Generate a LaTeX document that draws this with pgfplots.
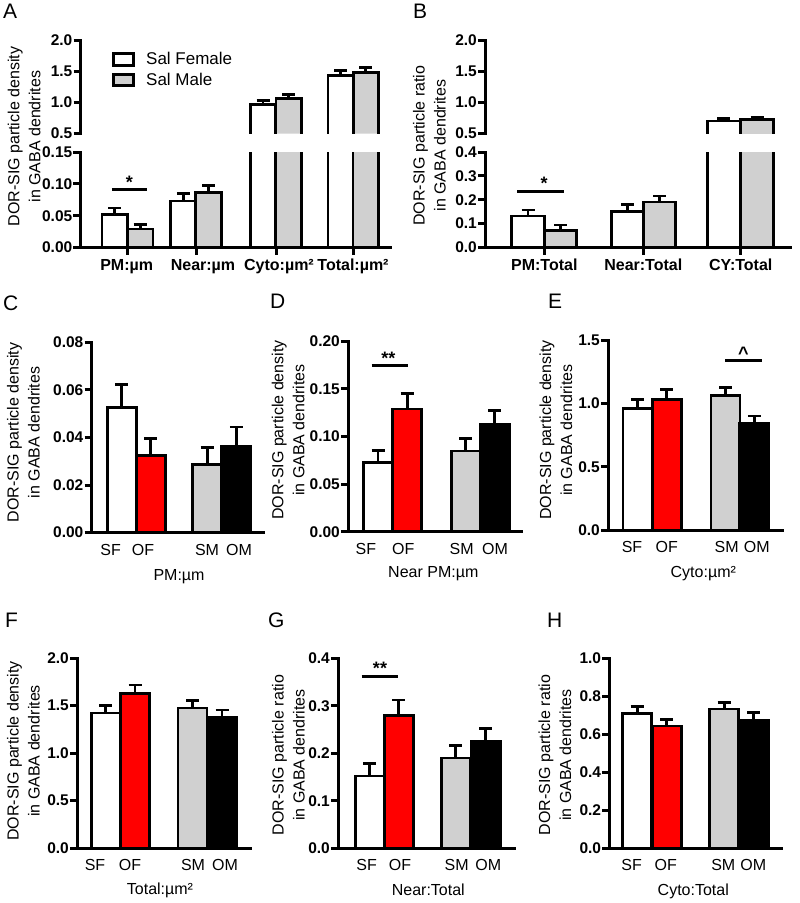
\documentclass[border=0pt]{standalone}
\usepackage{fontspec}
\setmainfont{Liberation Sans}
\usepackage{pgfplots}
\pgfplotsset{compat=1.18}

\definecolor{barred}{RGB}{255,0,0}
\definecolor{bargray}{RGB}{208,208,208}
\newcommand{\fs}[1]{\fontsize{#1}{#1}\selectfont}

% 1pt in the picture = 1px of the reference
\pgfplotsset{
  panel/.style={
    scale only axis, enlargelimits=false, clip mode=individual,
    axis x line=bottom, axis y line=left,
    axis line style={-, line width=3pt, line cap=rect},
    tick align=outside, major tick length=7pt,
    ytick style={line width=3pt, black},
    xtick style={draw=none},
    ymin=0, scaled y ticks=false,
    /pgf/number format/assume math mode=true,
    yticklabel style={font=\fs{15.5}\bfseries, inner sep=1pt},
    xticklabel style={font=\fs{16}, anchor=base, yshift=-15.5pt},
    ylabel style={font=\fontsize{16}{21}\selectfont, align=center, anchor=center},
    xlabel style={font=\fs{16}, anchor=base, at={(axis description cs:0,0)}},
  },
  br/.style={ybar, bar shift=0pt, bar width=29, fill=#1, draw=black, line width=2.7pt,
    legend image code/.code={\draw[line width=3pt, draw=black, fill=#1] (0pt,-5.75pt) rectangle (20.5pt,5.75pt);},
    error bars/y dir=plus, error bars/y explicit,
    error bars/error bar style={line width=2.7pt, draw=black, solid},
    error bars/error mark options={rotate=90, line width=2.7pt, mark size=6.5pt, draw=black}},
  % open-bottom outline of a bar in the upper part of a broken axis
  edge/.style={line width=2.7pt, black, mark=none, line join=miter, forget plot},
}
\tikzset{
  sig/.style={line width=3pt},
  star/.style={font=\fs{18}\bfseries, anchor=base, inner sep=0pt},
}

\begin{document}
\begin{tikzpicture}
\useasboundingbox (0pt,0pt) rectangle (800pt,-903pt);

% panel letters
\foreach \t/\x/\y in {A/3/18, B/413/18, C/3/310, D/270/308, E/548/308, F/5/627, G/268/627, H/547/627}
  \node[anchor=base west, inner sep=0pt, font=\fs{21}] at (\x pt,-\y pt) {\t};

% ---------------- A (broken axis) ----------------
\begin{axis}[panel, at={(80.5pt,-247.5pt)}, anchor=south west,
  width=309.5pt, height=95.5pt, xmin=80.5, xmax=390, ymax=0.15,
  ytick={0,0.05,0.10,0.15}, yticklabels={0.00,0.05,0.10,0.15},
  xtick={126.7,203,279,353},
  xticklabels={PM:µm, Near:µm, Cyto:µm², Total:µm²},
  xticklabel style={font=\fs{16}\bfseries},
  extra x ticks={127.7,196,276,353}, extra x tick labels={},
  extra x tick style={xtick style={draw=black, line width=3pt}},
  ylabel={DOR-SIG particle density\\in GABA dendrites},
  ylabel style={at={(axis description cs:-0.1819,1.160)}}]
\addplot[br=white, bar width=25.5] coordinates {(114.7,0.052) +- (0,0.010) (183.3,0.073) +- (0,0.012) (263,0.96) +- (0,0.07) (340.8,1.43) +- (0,0.08)};
\addplot[br=bargray, bar width=25.5] coordinates {(140.2,0.029) +- (0,0.007) (208.5,0.086) +- (0,0.011) (288.8,1.06) +- (0,0.065) (365.8,1.48) +- (0,0.08)};
\draw[sig] (axis cs:112,0.091) -- (axis cs:147,0.091);
\node[star] at (axis cs:129.5,0.093) {*};
\end{axis}
\begin{axis}[panel, at={(80.5pt,-133.5pt)}, anchor=south west,
  width=309.5pt, height=93.5pt, xmin=80.5, xmax=390, ymin=0.5, ymax=2.0,
  axis x line=none,
  ytick={0.5,1,1.5,2}, yticklabels={0.5,1.0,1.5,2.0}, xtick=\empty,
  legend style={draw=none, fill=none, at={(axis description cs:0,1)}, anchor=north west,
    xshift=31pt, yshift=-11.8pt, font=\fs{17}, row sep=6pt, inner sep=0pt,
    nodes={inner sep=0pt}, column sep=11pt},
  legend cell align=left]
\addplot[br=white, draw=none, bar width=25.5] coordinates {(263,0.96) +- (0,0.07) (340.8,1.43) +- (0,0.08)};
\addplot[br=bargray, draw=none, bar width=25.5] coordinates {(288.8,1.06) +- (0,0.065) (365.8,1.48) +- (0,0.08)};
\addplot[edge] coordinates {(250.25,0) (250.25,0.96) (275.75,0.96) (275.75,0)};
\addplot[edge] coordinates {(276.05,0) (276.05,1.06) (301.55,1.06) (301.55,0)};
\addplot[edge] coordinates {(328.05,0) (328.05,1.43) (353.55,1.43) (353.55,0)};
\addplot[edge] coordinates {(353.05,0) (353.05,1.48) (378.55,1.48) (378.55,0)};
\addlegendimage{br=white}
\addlegendimage{br=bargray}
\legend{,,Sal Female, Sal Male}
\end{axis}

% ---------------- B (broken axis) ----------------
\begin{axis}[panel, at={(485pt,-247.5pt)}, anchor=south west,
  width=305pt, height=95.5pt, xmin=485, xmax=790, ymax=0.4,
  ytick={0,0.1,0.2,0.3,0.4}, yticklabels={0.0,0.1,0.2,0.3,0.4},
  xtick={544.3,643.3,740.7},
  xticklabels={PM:Total, Near:Total, CY:Total},
  xticklabel style={font=\fs{16}\bfseries},
  xtick style={draw=black, line width=3pt},
  ylabel={DOR-SIG particle ratio\\in GABA dendrites},
  ylabel style={at={(axis description cs:-0.182,1.067)}}]
\addplot[br=white, bar width=32.5] coordinates {(528,0.132) +- (0,0.025) (627.5,0.151) +- (0,0.029) (723.7,0.70) +- (0,0.04)};
\addplot[br=bargray, bar width=32.5] coordinates {(560.5,0.072) +- (0,0.022) (659.5,0.19) +- (0,0.026) (757,0.72) +- (0,0.04)};
\draw[sig] (axis cs:517,0.2366) -- (axis cs:564,0.2366);
\node[star] at (axis cs:544,0.241) {*};
\end{axis}
\begin{axis}[panel, at={(485pt,-133.5pt)}, anchor=south west,
  width=305pt, height=93.5pt, xmin=485, xmax=790, ymin=0.5, ymax=2.0,
  axis x line=none,
  ytick={0.5,1,1.5,2}, yticklabels={0.5,1.0,1.5,2.0}, xtick=\empty]
\addplot[br=white, draw=none, bar width=32.5] coordinates {(723.7,0.70) +- (0,0.04)};
\addplot[br=bargray, draw=none, bar width=32.5] coordinates {(757,0.72) +- (0,0.04)};
\addplot[edge] coordinates {(707.45,0) (707.45,0.70) (739.95,0.70) (739.95,0)};
\addplot[edge] coordinates {(740.75,0) (740.75,0.72) (773.25,0.72) (773.25,0)};
\end{axis}

% ---------------- C ----------------
\begin{axis}[panel, at={(91.5pt,-532.6pt)}, anchor=south west,
  width=171.8pt, height=190.3pt, xmin=91.5, xmax=263.3, ymax=0.08,
  ytick={0,0.02,0.04,0.06,0.08}, yticklabels={0.00,0.02,0.04,0.06,0.08},
  xtick={110.7,143,207,239}, xticklabels={SF,OF,SM,OM},
  xlabel={PM:µm}, xlabel style={xshift=87.5pt, yshift=-47.4pt},
  ylabel={DOR-SIG particle density\\in GABA dendrites},
  ylabel style={at={(axis description cs:-0.397,0.526)}}]
\addplot[br=white] coordinates {(121.7,0.0526) +- (0,0.0098)};
\addplot[br=barred] coordinates {(150.8,0.0325) +- (0,0.0071)};
\addplot[br=bargray] coordinates {(207.2,0.0287) +- (0,0.0070)};
\addplot[br=black] coordinates {(236.3,0.0361) +- (0,0.0083)};
\end{axis}

% ---------------- D ----------------
\begin{axis}[panel, at={(348pt,-531.7pt)}, anchor=south west,
  width=173.7pt, height=190.7pt, xmin=348, xmax=521.7, ymax=0.2,
  ytick={0,0.05,0.10,0.15,0.20}, yticklabels={0.00,0.05,0.10,0.15,0.20},
  xtick={365.8,403.3,461.7,495}, xticklabels={SF,OF,SM,OM},
  xlabel={Near PM:µm}, xlabel style={xshift=85.3pt, yshift=-45.3pt},
  ylabel={DOR-SIG particle density\\in GABA dendrites},
  ylabel style={at={(axis description cs:-0.344,0.533)}}]
\addplot[br=white] coordinates {(378,0.0723) +- (0,0.0127)};
\addplot[br=barred] coordinates {(407.2,0.1286) +- (0,0.0164)};
\addplot[br=bargray] coordinates {(465.8,0.0846) +- (0,0.0134)};
\addplot[br=black] coordinates {(494.7,0.1126) +- (0,0.0142)};
\draw[sig] (axis cs:371.7,0.1738) -- (axis cs:408.3,0.1738);
\node[star] at (axis cs:388.3,0.1750) {**};
\end{axis}

% ---------------- E ----------------
\begin{axis}[panel, at={(608pt,-530pt)}, anchor=south west,
  width=174pt, height=190pt, xmin=608, xmax=782, ymax=1.5,
  ytick={0,0.5,1,1.5}, yticklabels={0.0,0.5,1.0,1.5},
  xtick={632,666.7,726.7,756.7}, xticklabels={SF,OF,SM,OM},
  xlabel={Cyto:µm²}, xlabel style={xshift=95.3pt, yshift=-47pt},
  ylabel={DOR-SIG particle density\\in GABA dendrites},
  ylabel style={at={(axis description cs:-0.300,0.526)}}]
\addplot[br=white] coordinates {(637.5,0.96) +- (0,0.07)};
\addplot[br=barred] coordinates {(666.7,1.03) +- (0,0.08)};
\addplot[br=bargray] coordinates {(725.5,1.06) +- (0,0.065)};
\addplot[br=black] coordinates {(754.3,0.845) +- (0,0.055)};
\draw[sig] (axis cs:725,1.342) -- (axis cs:761.7,1.342);
\node[star] at (axis cs:743.3,1.35) {\textasciicircum};
\end{axis}

% ---------------- F ----------------
\begin{axis}[panel, at={(77pt,-848pt)}, anchor=south west,
  width=173pt, height=189.7pt, xmin=77, xmax=250, ymax=2.0,
  ytick={0,0.5,1,1.5,2}, yticklabels={0.0,0.5,1.0,1.5,2.0},
  xtick={95,130,193,225}, xticklabels={SF,OF,SM,OM},
  xlabel={Total:µm²}, xlabel style={xshift=83pt, yshift=-46pt},
  ylabel={DOR-SIG particle density\\in GABA dendrites},
  ylabel style={at={(axis description cs:-0.310,0.512)}}]
\addplot[br=white] coordinates {(105.8,1.424) +- (0,0.08)};
\addplot[br=barred] coordinates {(135,1.63) +- (0,0.09)};
\addplot[br=bargray] coordinates {(192.5,1.475) +- (0,0.08)};
\addplot[br=black] coordinates {(222,1.375) +- (0,0.08)};
\end{axis}

% ---------------- G ----------------
\begin{axis}[panel, at={(338pt,-848.3pt)}, anchor=south west,
  width=176.3pt, height=190pt, xmin=338, xmax=514.3, ymax=0.4,
  ytick={0,0.1,0.2,0.3,0.4}, yticklabels={0.0,0.1,0.2,0.3,0.4},
  xtick={366.7,400,456.7,488.3}, xticklabels={SF,OF,SM,OM},
  xlabel={Near:Total}, xlabel style={xshift=90.3pt, yshift=-46.7pt},
  ylabel={DOR-SIG particle ratio\\in GABA dendrites},
  ylabel style={at={(axis description cs:-0.282,0.491)}}]
\addplot[br=white] coordinates {(369.8,0.152) +- (0,0.026)};
\addplot[br=barred] coordinates {(398.7,0.28) +- (0,0.032)};
\addplot[br=bargray] coordinates {(455.8,0.19) +- (0,0.026)};
\addplot[br=black] coordinates {(485.8,0.225) +- (0,0.027)};
\draw[sig] (axis cs:361.7,0.3627) -- (axis cs:398.3,0.3627);
\node[star] at (axis cs:380,0.365) {**};
\end{axis}

% ---------------- H ----------------
\begin{axis}[panel, at={(609.3pt,-848.3pt)}, anchor=south west,
  width=172.4pt, height=190pt, xmin=609.3, xmax=781.7, ymax=1.0,
  ytick={0,0.2,0.4,0.6,0.8,1}, yticklabels={0.0,0.2,0.4,0.6,0.8,1.0},
  xtick={631.7,665.8,723.3,753.3}, xticklabels={SF,OF,SM,OM},
  xlabel={Cyto:Total}, xlabel style={xshift=84pt, yshift=-46.7pt},
  ylabel={DOR-SIG particle ratio\\in GABA dendrites},
  ylabel style={at={(axis description cs:-0.315,0.491)}}]
\addplot[br=white] coordinates {(637.2,0.71) +- (0,0.035)};
\addplot[br=barred] coordinates {(666.7,0.643) +- (0,0.035)};
\addplot[br=bargray] coordinates {(724.2,0.733) +- (0,0.035)};
\addplot[br=black] coordinates {(753.8,0.675) +- (0,0.038)};
\end{axis}
\end{tikzpicture}
\end{document}
